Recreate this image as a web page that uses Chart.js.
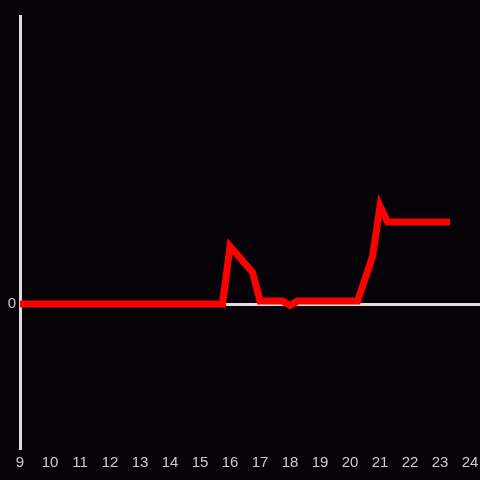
<!DOCTYPE html>
<html>
<head>
<meta charset="utf-8">
<script src="https://cdn.jsdelivr.net/npm/chart.js@4/dist/chart.umd.min.js"></script>
<style>
  html, body { margin: 0; padding: 0; background: #050308; }
  #wrap { width: 480px; height: 480px; }
</style>
</head>
<body>
<div id="wrap"><canvas id="chart" width="480" height="480"></canvas></div>
<script>
// hours of the day and measured values
const hours  = [9, 15.75, 16, 16.75, 17, 17.75, 18, 18.25, 20.25, 20.75, 21, 21.25, 23.33];
const values = [0, 0, 0.40, 0.22, 0.02, 0.02, -0.01, 0.02, 0.02, 0.33, 0.68, 0.57, 0.57];
const xTicks = [9, 10, 11, 12, 13, 14, 15, 16, 17, 18, 19, 20, 21, 22, 23, 24];
const yTicks = [0];

// latar gelap
const bgPlugin = {
    id: 'bg',
    beforeDraw: (chart) => {
        const c = chart.ctx;
        c.save();
        c.fillStyle = '#050308';
        c.fillRect(0, 0, chart.width, chart.height);
        c.restore();
    }
};

const ctx = document.getElementById('chart').getContext('2d');
new Chart(ctx, {
    type: 'line',
    data: {
        datasets: [{
            data: hours.map((h, i) => ({ x: h, y: values[i] })),
            borderColor: '#ff0000',
            borderWidth: 7,
            pointRadius: 0,
            tension: 0,
            fill: false
        }]
    },
    options: {
        responsive: false,
        animation: false,
        layout: { padding: { top: 16, right: 0, bottom: 0, left: 0 } },
        plugins: {
            legend: { display: false },
            tooltip: { enabled: false }
        },
        scales: {
            x: {
                type: 'linear',
                min: 9,
                max: 24.33,
                afterBuildTicks: (scale) => { scale.ticks = xTicks.map(v => ({ value: v })); },
                afterFit: (scale) => { scale.height = 32; scale.paddingRight = 0; },
                grid: { display: false, drawTicks: false },
                border: { display: false },
                ticks: {
                    color: '#cccccc',
                    font: { family: 'Liberation Sans', size: 15 },
                    padding: 6,
                    maxRotation: 0,
                    autoSkip: false
                }
            },
            y: {
                min: -1,
                max: 2,
                afterBuildTicks: (scale) => { scale.ticks = yTicks.map(v => ({ value: v })); },
                afterFit: (scale) => { scale.width = 20; },
                grid: {
                    drawTicks: false,
                    color: (c) => c.tick && c.tick.value === 0 ? '#dddddd' : 'transparent',
                    lineWidth: 3
                },
                border: { display: true, color: '#dddddd', width: 3 },
                ticks: {
                    color: '#cccccc',
                    font: { family: 'Liberation Sans', size: 15 },
                    padding: 4
                }
            }
        }
    },
    plugins: [bgPlugin]
});
</script>
</body>
</html>
